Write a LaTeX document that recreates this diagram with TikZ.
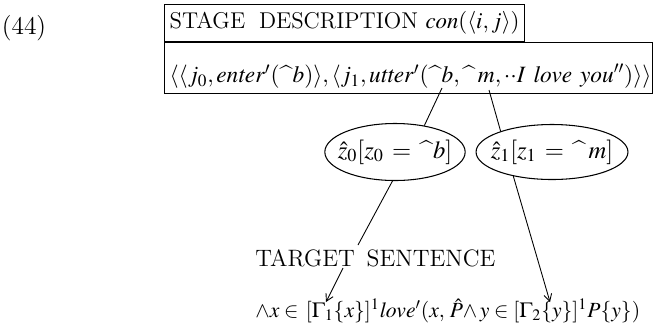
\documentclass[tikz,border=0pt]{standalone}
\usepackage{mathptmx}
\usepackage[scaled=0.92]{helvet}
\usepackage{tikz}
\usetikzlibrary{shapes.geometric,arrows.meta,positioning,calc}
\usepackage{amsmath}

\newcommand{\intn}{\mbox{\textasciicircum}}

\begin{document}
\begin{tikzpicture}[
  x=0.2mm, y=-0.2mm,
  stagebox/.style={
    rectangle, draw, line width=0.7pt,
    inner xsep=1mm},
  zvar/.style={
    ellipse, draw, line width=0.6pt,
    inner xsep=-1.5mm, inner ysep=0pt,
    minimum width=27.2mm, minimum height=11.4mm,
    font=\fontsize{14}{16}\selectfont},
  link/.style={line width=0.5pt},
  arr/.style={-{Straight Barb[length=4pt,width=4.5pt]}, line width=0.5pt},
]
  \useasboundingbox (0,0) rectangle (655,322);

  % ── Example number ──────────────────────────────────────────────────────
  \node[font=\sffamily\fontsize{14.5}{17}\selectfont] (num) at (24,28) {(44)};

  % ── Stage description boxes ─────────────────────────────────────────────
  \node[stagebox, anchor=south west, minimum width=67mm, minimum height=7.4mm,
        font=\fontsize{13}{15}\selectfont] (stage) at (164,42)
      {STAGE\; DESCRIPTION $\mathit{con}(\langle i,j\rangle)$};
  \node[stagebox, anchor=north west, align=left,
        text width=95.6mm, inner ysep=1mm,
        text height=7mm, text depth=1.2mm,
        font=\fontsize{13.3}{16}\selectfont] (scene) at (164,42)
      {$\langle\langle j_0, \mathit{enter}'(\intn b)\rangle, \langle j_1,
        \mathit{utter}'(\intn b, \intn\, m, {\cdot\cdot}\mathit{I\ love\ you}'')\rangle\rangle$};

  % marks under the two arguments of utter'
  \coordinate (bmark) at (442,88);
  \coordinate (mmark) at (489,90);

  % ── Variable ellipses ───────────────────────────────────────────────────
  \node[zvar] (zb) at (395,152) {$\hat z_0[z_0 \,=\, \intn b]$};
  \node[zvar, minimum width=28mm, minimum height=11mm]
      (zm) at (552,152) {$\hat z_1[z_1 \,=\, \intn\, m]$};

  % ── Target sentence ─────────────────────────────────────────────────────
  \node[font=\fontsize{13.5}{16}\selectfont, anchor=west, inner sep=0pt]
      (target) at (255,258) {TARGET\hspace{0.5em}SENTENCE};
  \node[font=\fontsize{12.3}{14}\selectfont, anchor=west, inner sep=0pt]
      (formula) at (255,311)
      {$\wedge x \in\, [\Gamma_1\{x\}]^{1}\mathit{love}'(x,\,
        \hat{P}{\wedge}\, y \in [\Gamma_2\{y\}]^{1}P\{y\})$};

  \coordinate (tin)  at (358,245);
  \coordinate (tout) at (343,268);
  \coordinate (gone) at (326,302);
  \coordinate (gtwo) at (550,302);

  % ── Connectors ──────────────────────────────────────────────────────────
  \draw[link] (bmark) -- (zb.42);
  \draw[link] (mmark) -- (zm.158);
  \draw[link] (zb.265) -- (tin);
  \draw[arr]  (tout) -- (gone);
  \draw[arr]  (zm.212) -- (gtwo);

\end{tikzpicture}
\end{document}
